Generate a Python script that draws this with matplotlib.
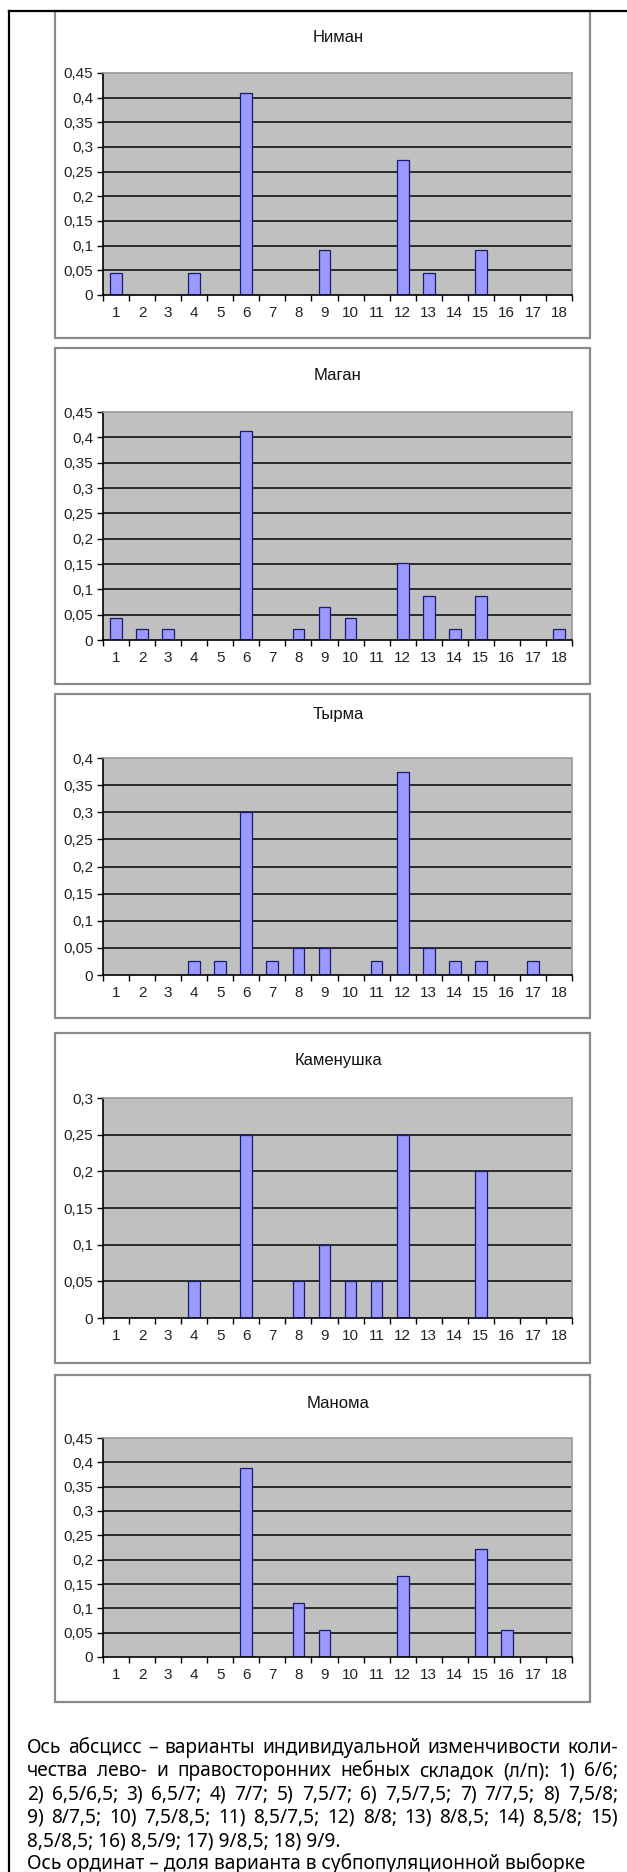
import numpy as np
import matplotlib
matplotlib.use('Agg')
import matplotlib.pyplot as plt
from matplotlib.patches import Rectangle
from matplotlib.lines import Line2D

# ---------------- data ----------------
categories = list(range(1, 19))
tick_labels = [str(c) for c in categories]

niman_cats = [1, 4, 6, 9, 12, 13, 15]
niman_vals = [0.045, 0.045, 0.409, 0.091, 0.273, 0.045, 0.091]

magan_cats = [1, 2, 3, 6, 8, 9, 10, 12, 13, 14, 15, 18]
magan_vals = [0.043, 0.022, 0.022, 0.413, 0.022, 0.065, 0.043, 0.152, 0.087, 0.022, 0.087, 0.022]

tyrma_cats = [4, 5, 6, 7, 8, 9, 11, 12, 13, 14, 15, 17]
tyrma_vals = [0.025, 0.025, 0.3, 0.025, 0.05, 0.05, 0.025, 0.375, 0.05, 0.025, 0.025, 0.025]

kamen_cats = [4, 6, 8, 9, 10, 11, 12, 15]
kamen_vals = [0.05, 0.25, 0.05, 0.1, 0.05, 0.05, 0.25, 0.2]

manoma_cats = [6, 8, 9, 12, 15, 16]
manoma_vals = [0.389, 0.111, 0.056, 0.167, 0.222, 0.056]

titles = ['Ниман', 'Маган', 'Тырма', 'Каменушка', 'Манома']
y_max = [0.45, 0.45, 0.4, 0.3, 0.45]
series = [(niman_cats, niman_vals), (magan_cats, magan_vals), (tyrma_cats, tyrma_vals),
          (kamen_cats, kamen_vals), (manoma_cats, manoma_vals)]

caption_lines = [
    "Ось абсцисс – варианты индивидуальной изменчивости коли-",
    "чества лево- и правосторонних небных складок (л/п): 1) 6/6;",
    "2) 6,5/6,5; 3) 6,5/7; 4) 7/7; 5) 7,5/7; 6) 7,5/7,5; 7) 7/7,5; 8) 7,5/8;",
    "9) 8/7,5; 10) 7,5/8,5; 11) 8,5/7,5; 12) 8/8; 13) 8/8,5; 14) 8,5/8; 15)",
    "8,5/8,5; 16) 8,5/9; 17) 9/8,5; 18) 9/9.",
    "Ось ординат – доля варианта в субпопуляционной выборке",
]
caption_justify = [True, True, True, True, False, False]

# ---------------- layout (pixels) ----------------
W, H = 627, 1872
fig = plt.figure(figsize=(W / 100, H / 100), dpi=100)
fig.patch.set_facecolor('white')

def fx(px):
    return px / W

def fy(py):
    return 1 - py / H

# (box_top, box_bottom, plot_top, plot_zero, title_y)
panels = [
    (11, 338, 73, 295, 38),
    (348, 684, 412, 640, 375),
    (694, 1018, 758, 975, 715),
    (1033, 1363, 1098, 1318, 1061),
    (1375, 1702, 1438, 1657, 1403),
]
box_l, box_r = 55, 590
plot_l, plot_r = 103, 572

chart_font = 'Liberation Sans'

def fmt(v):
    if abs(v) < 1e-9:
        return '0'
    return ('%g' % round(v, 2)).replace('.', ',')

for (cats, vals), title, ym, (bt, bb, pt, p0, ty) in zip(series, titles, y_max, panels):
    # chart box
    rect = Rectangle((fx(box_l), fy(bb)), fx(box_r) - fx(box_l), fy(bt) - fy(bb),
                     transform=fig.transFigure, facecolor='white', edgecolor='#8a8a8a',
                     linewidth=1.6, zorder=0)
    fig.add_artist(rect)

    ax = fig.add_axes([fx(plot_l), fy(p0), fx(plot_r) - fx(plot_l), fy(pt) - fy(p0)])
    ax.set_facecolor('#C0C0C0')
    ax.set_xlim(0.5, 18.5)
    ax.set_ylim(0, ym)

    yt = np.round(np.arange(0, ym + 1e-9, 0.05), 2)
    for v in yt[1:-1]:
        ax.axhline(v, color='#202020', linewidth=1.3, zorder=0.5)

    ax.bar(cats, vals, width=0.45, color='#9999FF', edgecolor='#1a1a70',
           linewidth=0.9, zorder=2)

    ax.set_yticks(yt)
    ax.set_yticklabels([fmt(v) for v in yt], fontsize=11, family=chart_font, color='#222222')
    ax.tick_params(axis='y', direction='out', length=4, width=1, pad=3, color='black')

    ax.set_xticks(np.arange(0.5, 18.6, 1.0))
    ax.set_xticklabels([])
    ax.set_xticks(categories, minor=True)
    ax.set_xticklabels(tick_labels, minor=True, fontsize=11, family=chart_font, color='#222222')
    ax.tick_params(axis='x', which='major', direction='out', length=4, width=1, color='black')
    ax.tick_params(axis='x', which='minor', length=0, pad=8)

    for s in ['left', 'bottom']:
        ax.spines[s].set_color('black')
        ax.spines[s].set_linewidth(1.2)
    for s in ['top', 'right']:
        ax.spines[s].set_color('#9a9a9a')
        ax.spines[s].set_linewidth(1.2)

    fig.text(fx(338), fy(ty), title, ha='center', va='center', fontsize=12,
             family=chart_font, color='#111111')

# outer frame (left and top)
fig.add_artist(Line2D([fx(9), fx(9)], [fy(11), 0], transform=fig.transFigure,
                      color='black', linewidth=1.6))
fig.add_artist(Line2D([fx(9), 1], [fy(11), fy(11)], transform=fig.transFigure,
                      color='black', linewidth=1.6))

# ---------------- caption ----------------
cap_font = 'Noto Sans'
renderer = fig.canvas.get_renderer()

def text_width(s, size):
    t = fig.text(0, 0, s, fontsize=size, family=cap_font)
    w = t.get_window_extent(renderer).width
    t.remove()
    return w

txt_l, txt_r = 27, 618
cap_size = 12 * 556 / text_width(caption_lines[5], 12)
# keep the justified lines from overflowing
for line, just in zip(caption_lines, caption_justify):
    if just:
        n_sp = line.count(' ')
        cap_size = min(cap_size, 12 * (txt_r - txt_l - 1.5 * n_sp) / text_width(line, 12))

for i, (line, just) in enumerate(zip(caption_lines, caption_justify)):
    base = 1753 + 23.3 * i
    if just:
        words = line.split(' ')
        ws = [text_width(w, cap_size) for w in words]
        gap = (txt_r - txt_l - sum(ws)) / (len(words) - 1)
        x = txt_l
        for w, wd in zip(words, ws):
            fig.text(fx(x), fy(base), w, ha='left', va='baseline', fontsize=cap_size,
                     family=cap_font, color='black')
            x += wd + gap
    else:
        fig.text(fx(txt_l), fy(base), line, ha='left', va='baseline', fontsize=cap_size,
                 family=cap_font, color='black')

fig.savefig('out.png', dpi=100, facecolor='white')
